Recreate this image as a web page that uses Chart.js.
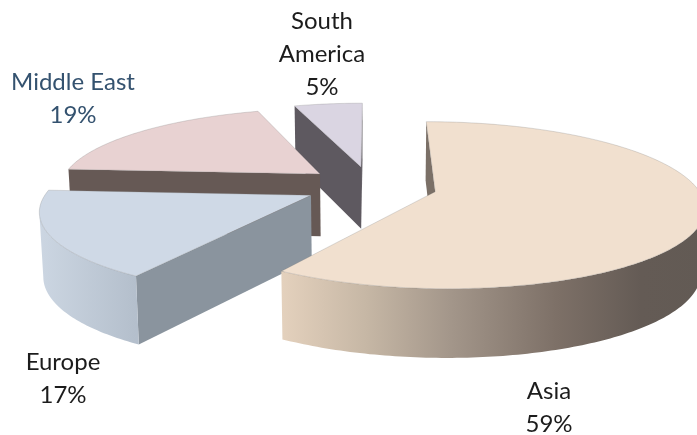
<!DOCTYPE html>
<html>
<head>
<meta charset="utf-8">
<title>Regions</title>
<script src="https://cdn.jsdelivr.net/npm/chart.js@4/dist/chart.umd.min.js"></script>
<style>
    html, body { margin: 0; padding: 0; background: #fff; }
    #wrap { position: relative; width: 697px; height: 435px; overflow: hidden; }
</style>
</head>
<body>
<div id="wrap"><canvas id="regionChart"></canvas></div>
<script>
/*
|--------------------------------------------------------------------------
| Data
|--------------------------------------------------------------------------
*/
var categories = ["Asia", "Europe", "Middle East", "South America"];
var shares = [59, 17, 19, 5];

// one entry per line of text, the percentage comes from shares
var labelLines = [["Asia"], ["Europe"], ["Middle East"], ["South", "America"]];

/*
|--------------------------------------------------------------------------
| Look of the slices
|--------------------------------------------------------------------------
*/
var topColors = ["#f1e0cf", "#cfd9e6", "#e8d2d2", "#dad5e2"];
var sideColors = ["#7b7067", "#8a949e", "#665955", "#5e5960"];
var wallStops = [
    [[0, "#e4d1bd"], [0.2, "#c6b7a5"], [0.4, "#a3968a"], [0.65, "#7d7067"], [0.85, "#645b55"], [1, "#625a54"]],
    [[0, "#ccd6e2"], [1, "#b4bfcc"]],
    [[0, "#665955"], [1, "#665955"]],
    [[0, "#5e5960"], [1, "#5e5960"]]
];
var labelColors = ["#1c1c1c", "#1c1c1c", "#34526f", "#1c1c1c"];
var labelSpots = [[549, 391], [63, 362], [73, 82], [322, 21]];

// fake 3D: ground plane seen in perspective
var view = { sx: 1.405, sz: 0.4274, persp: 0.16, explode: 0.253, depth: 63, lean: 0.012 };

function project(arc, mid, angle, r) {
    var R = arc.outerRadius;
    var u = view.explode * Math.cos(mid) + r * Math.cos(angle);
    var v = view.explode * Math.sin(mid) + r * Math.sin(angle);
    var w = 1 - view.persp * v;
    var x = arc.x + view.sx * R * u / w;
    var y = arc.y + view.sz * R * v / w;
    return {
        x: x,
        y: y,
        bx: x + (arc.x - x) * view.lean,
        by: y + view.depth / Math.sqrt(w)
    };
}

function fillPath(ctx, pts, fill) {
    ctx.beginPath();
    pts.forEach(function (p, i) {
        if (i === 0) ctx.moveTo(p[0], p[1]); else ctx.lineTo(p[0], p[1]);
    });
    ctx.closePath();
    ctx.fillStyle = fill;
    ctx.fill();
}

function drawSide(ctx, a, b, color) {
    // a -> b runs clockwise round the top face, only keep walls facing us
    var cross = (b.x - a.x) * (a.by - a.y) - (b.y - a.y) * (a.bx - a.x);
    if (cross >= 0) return;
    fillPath(ctx, [[a.x, a.y], [b.x, b.y], [b.bx, b.by], [a.bx, a.by]], color);
}

function drawSlice(ctx, arc, i) {
    var mid = (arc.startAngle + arc.endAngle) / 2;
    var steps = Math.ceil((arc.endAngle - arc.startAngle) * 60);
    var apex = project(arc, mid, 0, 0);
    var rim = [];
    for (var s = 0; s <= steps; s++) {
        rim.push(project(arc, mid, arc.startAngle + (arc.endAngle - arc.startAngle) * s / steps, 1));
    }

    drawSide(ctx, apex, rim[0], sideColors[i]);
    drawSide(ctx, rim[steps], apex, sideColors[i]);

    // outer wall, only the part running right to left is on the near side
    var front = rim.filter(function (p, k) {
        return (k < steps && rim[k + 1].x < p.x) || (k > 0 && p.x < rim[k - 1].x);
    });
    if (front.length > 1) {
        var xs = front.map(function (p) { return p.x; });
        var grad = ctx.createLinearGradient(Math.min.apply(null, xs), 0, Math.max.apply(null, xs), 0);
        wallStops[i].forEach(function (st) { grad.addColorStop(st[0], st[1]); });
        var wall = front.map(function (p) { return [p.x, p.y]; });
        front.slice().reverse().forEach(function (p) { wall.push([p.bx, p.by]); });
        fillPath(ctx, wall, grad);
    }

    var face = [[apex.x, apex.y]].concat(rim.map(function (p) { return [p.x, p.y]; }));
    fillPath(ctx, face, topColors[i]);
    ctx.strokeStyle = "rgba(120,120,120,0.25)";
    ctx.lineWidth = 1;
    ctx.stroke();
}

var slices3d = {
    id: "slices3d",
    beforeDatasetsDraw: function (chart) {
        var ctx = chart.ctx;
        var arcs = chart.getDatasetMeta(0).data;
        ctx.save();
        for (var i = arcs.length - 1; i >= 0; i--) {
            drawSlice(ctx, arcs[i], i);
        }
        ctx.restore();
        return false;
    },
    afterDraw: function (chart) {
        var ctx = chart.ctx;
        var lineH = 33;
        ctx.save();
        ctx.font = "24px Lato";
        ctx.textAlign = "center";
        ctx.textBaseline = "middle";
        labelLines.forEach(function (lines, i) {
            ctx.fillStyle = labelColors[i];
            var rows = lines.concat([shares[i] + "%"]);
            rows.forEach(function (txt, k) {
                ctx.fillText(txt, labelSpots[i][0], labelSpots[i][1] + k * lineH);
            });
        });
        ctx.restore();
    }
};

/*
|--------------------------------------------------------------------------
| Chart
|--------------------------------------------------------------------------
*/
var ctx = document.getElementById("regionChart").getContext("2d");
window.regionChart = new Chart(ctx, {
    type: "pie",
    data: {
        labels: categories,
        datasets: [{ data: shares, backgroundColor: topColors, borderWidth: 0 }]
    },
    options: {
        responsive: true,
        maintainAspectRatio: false,
        animation: false,
        layout: { padding: { left: 45, right: 0, top: 0, bottom: 63 } },
        plugins: { legend: { display: false }, tooltip: { enabled: false } }
    },
    plugins: [slices3d]
});
</script>
</body>
</html>
